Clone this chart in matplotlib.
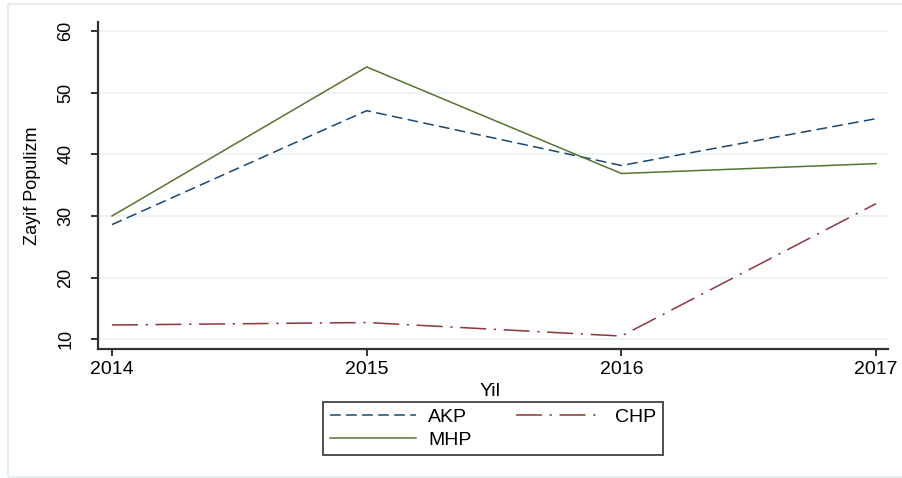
import matplotlib
matplotlib.use("Agg")
import matplotlib.pyplot as plt
from matplotlib.patches import Rectangle

# data
years = [2014, 2015, 2016, 2017]
akp = [28.6, 47.1, 38.2, 45.8]
chp = [12.3, 12.7, 10.5, 32.0]
mhp = [30.0, 54.2, 36.9, 38.5]
yticks = [10, 20, 30, 40, 50, 60]

plt.rcParams['font.family'] = ['Liberation Sans', 'DejaVu Sans']

fig = plt.figure(figsize=(9.03, 4.78), dpi=100)
ax = fig.add_axes([98/903, 1-349/478, 790/903, 327/478])

# light outer frame like the stata graph region
fig.patches.append(Rectangle((8/903, 1-477/478), 1.0, 473/478, transform=fig.transFigure,
                             fill=False, edgecolor='#e6eef1', lw=1.5))

l_akp, = ax.plot(years, akp, color='#1a476f', lw=1.1, linestyle=(0, (7, 3.5)), label='AKP')
l_chp, = ax.plot(years, chp, color='#90353b', lw=1.1, linestyle=(0, (17, 5, 1.5, 5)), label='CHP')
l_mhp, = ax.plot(years, mhp, color='#55752f', lw=1.1, label='MHP')

ax.set_xlim(2013.945, 2017.047)
ax.set_ylim(8.4, 61.5)
ax.set_xticks(years)
ax.set_yticks(yticks)
ax.set_yticklabels([str(v) for v in yticks], rotation=90, va='center')
ax.yaxis.grid(True, color='#eaf2f3', lw=1.2)
ax.set_axisbelow(True)

for s in ['top', 'right']:
    ax.spines[s].set_visible(False)
for s in ['left', 'bottom']:
    ax.spines[s].set_color('#333333')
    ax.spines[s].set_linewidth(1.6)

ax.tick_params(axis='x', length=5, width=1.4, color='#333333', labelsize=14, pad=4)
ax.tick_params(axis='y', length=5, width=1.4, color='#333333', labelsize=13, pad=12)

ax.set_ylabel('Zayif Populizm', fontsize=13)
ax.yaxis.set_label_coords(-0.072, 0.5)
ax.set_xlabel('Yil', fontsize=14)
ax.xaxis.set_label_coords(0.496, -0.104)

# order so rows read AKP, CHP / MHP
leg = fig.legend([l_akp, l_mhp, l_chp], ['AKP', 'MHP', 'CHP'],
                 loc='center', bbox_to_anchor=(493/903, 1-428.5/478), ncol=2,
                 fontsize=14, frameon=True, fancybox=False, handlelength=4.4,
                 columnspacing=2.3, handletextpad=0.65, borderpad=0.35, labelspacing=0.25,
                 borderaxespad=0)
leg.get_frame().set_edgecolor('#222222')
leg.get_frame().set_linewidth(1.4)

fig.savefig('out.png', dpi=100)
